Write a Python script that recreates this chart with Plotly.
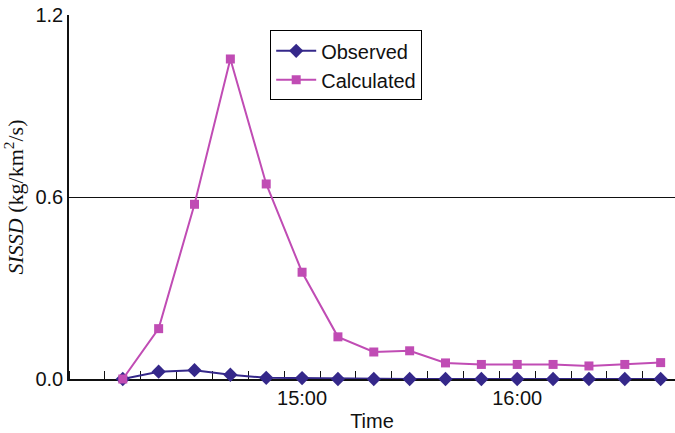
import plotly.graph_objects as go

# Sampling times every 10 minutes from 14:10 to 16:40 (index 0..15)
time_index = list(range(16))
tick_positions = [5, 11]
tick_labels = ["15:00", "16:00"]

observed = [0.0, 0.024, 0.029, 0.014, 0.004, 0.003, 0.0, 0.0,
            0.0, 0.0, 0.0, 0.0, 0.0, 0.0, 0.0, 0.0]
calculated = [0.0, 0.166, 0.576, 1.055, 0.643, 0.352, 0.139, 0.089,
              0.093, 0.053, 0.048, 0.048, 0.048, 0.043, 0.048, 0.054]

y_ticks = [0.0, 0.6, 1.2]
y_labels = ["0.0", "0.6", "1.2"]

obs_color = "#35288a"
calc_color = "#c04cb4"

fig = go.Figure()
fig.add_trace(go.Scatter(
    x=time_index, y=observed, name="Observed", mode="lines+markers",
    line=dict(color=obs_color, width=2),
    marker=dict(symbol="diamond", size=11, color=obs_color),
    cliponaxis=False,
))
fig.add_trace(go.Scatter(
    x=time_index, y=calculated, name="Calculated", mode="lines+markers",
    line=dict(color=calc_color, width=2),
    marker=dict(symbol="square", size=9, color=calc_color),
    cliponaxis=False,
))

axis_font = dict(family="Liberation Sans, Arial, sans-serif", size=20, color="#111")

fig.update_layout(
    width=675, height=433,
    margin=dict(l=69, r=0, t=15, b=54),
    paper_bgcolor="white", plot_bgcolor="white",
    font=axis_font,
    showlegend=True,
    legend=dict(
        x=0.332, y=0.958, xanchor="left", yanchor="top",
        bgcolor="white", bordercolor="black", borderwidth=1,
        font=dict(size=20), tracegroupgap=0, itemwidth=40,
    ),
    xaxis=dict(
        range=[-1.5, 15.4],
        tickmode="array", tickvals=tick_positions, ticktext=tick_labels,
        ticks="", showgrid=False, zeroline=False,
        showline=True, linecolor="#111", linewidth=2,
        layer="below traces",
        minor=dict(tickmode="linear", tick0=-1.5, dtick=1, ticks="inside",
                   ticklen=8, tickwidth=1, tickcolor="#111", showgrid=False),
        title=dict(text="Time", font=axis_font, standoff=6),
        tickfont=axis_font,
    ),
    yaxis=dict(
        range=[0, 1.2],
        tickmode="array", tickvals=y_ticks, ticktext=y_labels,
        ticks="", showgrid=True, gridcolor="#111", gridwidth=1,
        zeroline=False, showline=True, linecolor="#111", linewidth=1.5,
        layer="below traces",
        tickfont=axis_font,
        title=dict(
            text="<i>SISSD</i> (kg/km<sup>2</sup>/s)",
            font=dict(family="Liberation Serif, Times New Roman, serif", size=22, color="#111"),
            standoff=6,
        ),
    ),
)

fig.write_html("out.html")
